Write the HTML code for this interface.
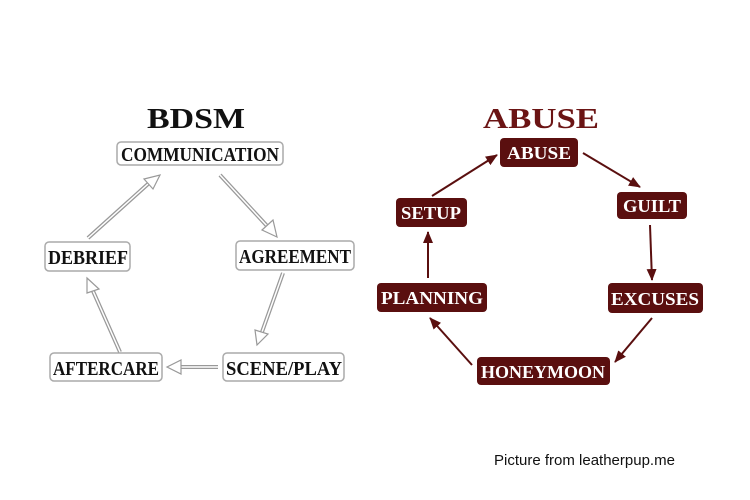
<!DOCTYPE html>
<html><head><style>
body{margin:0;background:#fff;width:750px;height:500px;overflow:hidden;}
svg{display:block}
.lt{font-family:"Liberation Serif",serif;font-weight:bold;font-size:20px;fill:#111;}
.rt{font-family:"Liberation Serif",serif;font-weight:bold;font-size:18px;fill:#fff;}
</style></head><body>
<svg width="750" height="500" viewBox="0 0 750 500">
<defs>
<marker id="m" markerWidth="12" markerHeight="12" refX="11" refY="5" orient="auto" markerUnits="userSpaceOnUse">
<path d="M0,0 L12,5 L0,10 Z" fill="#5a0f0f"/></marker>
</defs>
<text x="196" y="128" text-anchor="middle" font-family="Liberation Serif,serif" font-weight="bold" font-size="29" fill="#111" textLength="98" lengthAdjust="spacingAndGlyphs">BDSM</text>
<text x="541" y="128" text-anchor="middle" font-family="Liberation Serif,serif" font-weight="bold" font-size="29" fill="#6b1414" textLength="116" lengthAdjust="spacingAndGlyphs">ABUSE</text>

<g fill="#fff" stroke="#aaa" stroke-width="1.5">
<rect x="117" y="142" width="166" height="23" rx="4"/>
<rect x="236" y="241" width="118" height="29" rx="4"/>
<rect x="45" y="242" width="85" height="29" rx="4"/>
<rect x="50" y="353" width="112" height="28" rx="4"/>
<rect x="223" y="353" width="121" height="28" rx="4"/>
</g>
<g class="lt" text-anchor="middle">
<text x="200" y="161" textLength="158" lengthAdjust="spacingAndGlyphs">COMMUNICATION</text>
<text x="295" y="263" textLength="112" lengthAdjust="spacingAndGlyphs">AGREEMENT</text>
<text x="88" y="264" textLength="80" lengthAdjust="spacingAndGlyphs">DEBRIEF</text>
<text x="106" y="375" textLength="106" lengthAdjust="spacingAndGlyphs">AFTERCARE</text>
<text x="284" y="375" textLength="116" lengthAdjust="spacingAndGlyphs">SCENE/PLAY</text>
</g>

<g stroke="#999" fill="none">
<g stroke-width="4"><line x1="220" y1="175" x2="268" y2="227"/><line x1="283" y1="273" x2="262" y2="332"/><line x1="218" y1="367" x2="180" y2="367"/><line x1="120" y1="352" x2="93" y2="291"/><line x1="88" y1="238" x2="148" y2="184"/></g>
</g>
<g stroke="#fff" stroke-width="1.5"><line x1="220" y1="175" x2="268" y2="227"/><line x1="283" y1="273" x2="262" y2="332"/><line x1="218" y1="367" x2="180" y2="367"/><line x1="120" y1="352" x2="93" y2="291"/><line x1="88" y1="238" x2="148" y2="184"/></g>
<g fill="#fff" stroke="#999" stroke-width="1.2">
<polygon points="277,237 262,230 273,220"/>
<polygon points="257,345 255,330 268,334"/>
<polygon points="167,367 181,360 181,374"/>
<polygon points="87,278 99,289 87,293"/>
<polygon points="160,175 153,189 144,179"/>
</g>

<g fill="#5a0f0f">
<rect x="500" y="138" width="78" height="29" rx="4"/>
<rect x="617" y="192" width="70" height="27" rx="4"/>
<rect x="396" y="198" width="71" height="29" rx="4"/>
<rect x="377" y="283" width="110" height="29" rx="4"/>
<rect x="608" y="283" width="95" height="30" rx="4"/>
<rect x="477" y="357" width="133" height="28" rx="4"/>
</g>
<g class="rt" text-anchor="middle">
<text x="539" y="159" textLength="64" lengthAdjust="spacingAndGlyphs">ABUSE</text>
<text x="652" y="212" textLength="58" lengthAdjust="spacingAndGlyphs">GUILT</text>
<text x="431" y="219" textLength="60" lengthAdjust="spacingAndGlyphs">SETUP</text>
<text x="432" y="304" textLength="102" lengthAdjust="spacingAndGlyphs">PLANNING</text>
<text x="655" y="305" textLength="88" lengthAdjust="spacingAndGlyphs">EXCUSES</text>
<text x="543" y="378" textLength="124" lengthAdjust="spacingAndGlyphs">HONEYMOON</text>
</g>
<g stroke="#5a0f0f" stroke-width="2" marker-end="url(#m)">
<line x1="583" y1="153" x2="640" y2="187"/>
<line x1="650" y1="225" x2="652" y2="280"/>
<line x1="652" y1="318" x2="615" y2="362"/>
<line x1="472" y1="365" x2="430" y2="318"/>
<line x1="428" y1="278" x2="428" y2="232"/>
<line x1="432" y1="196" x2="497" y2="155"/>
</g>
<text x="494" y="465" font-family="Liberation Sans,sans-serif" font-size="15" fill="#111">Picture from leatherpup.me</text>
</svg>
</body></html>
